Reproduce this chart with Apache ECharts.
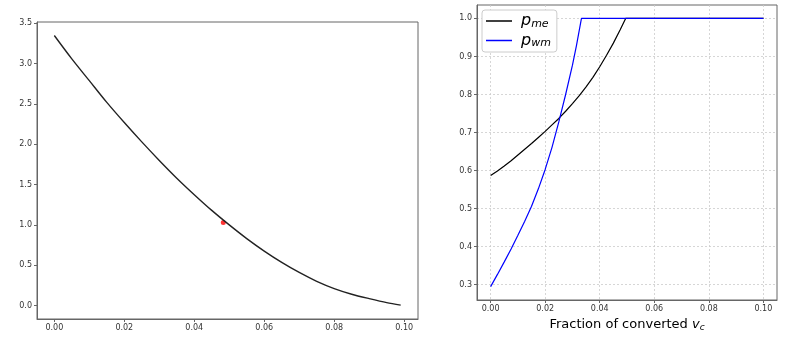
<!DOCTYPE html>
<html>
<head>
<meta charset="utf-8">
<script src="https://cdn.jsdelivr.net/npm/echarts@6/dist/echarts.min.js"></script>
<style>
html,body{margin:0;padding:0;background:#fff;}
#chart{width:803px;height:337px;}
</style>
</head>
<body>
<div id="chart"></div>
<script>
// left panel: decreasing curve + marked point
var leftX = [0, 0.005, 0.01, 0.015, 0.02, 0.025, 0.03, 0.035, 0.04, 0.045, 0.05, 0.055, 0.06, 0.065, 0.07, 0.075, 0.08, 0.085, 0.09, 0.095, 0.099];
var leftY = [3.35, 3.06, 2.79, 2.52, 2.27, 2.03, 1.80, 1.58, 1.375, 1.18, 1.0, 0.83, 0.675, 0.535, 0.41, 0.30, 0.21, 0.14, 0.085, 0.035, 0.005];
var markPoint = [0.0483, 1.03];
var leftXTicks = [0, 0.02, 0.04, 0.06, 0.08, 0.10];
var leftYTicks = [0, 0.5, 1.0, 1.5, 2.0, 2.5, 3.0, 3.5];

// right panel: p_me and p_wm
var meX = [0, 0.0025, 0.005, 0.0075, 0.01, 0.0125, 0.015, 0.0175, 0.02, 0.0225, 0.025, 0.0275, 0.03, 0.0325, 0.035, 0.0375, 0.04, 0.0425, 0.045, 0.0475, 0.0495, 0.1];
var meY = [0.587, 0.599, 0.612, 0.626, 0.641, 0.656, 0.671, 0.687, 0.703, 0.720, 0.737, 0.756, 0.776, 0.797, 0.820, 0.845, 0.873, 0.903, 0.935, 0.970, 1.0, 1.0];
var wmX = [0, 0.0025, 0.005, 0.0075, 0.01, 0.0125, 0.015, 0.0175, 0.02, 0.0225, 0.025, 0.0275, 0.03, 0.0315, 0.0333, 0.1];
var wmY = [0.295, 0.327, 0.36, 0.394, 0.43, 0.467, 0.506, 0.552, 0.603, 0.661, 0.728, 0.80, 0.877, 0.93, 1.0, 1.0];
var rightXTicks = [0, 0.02, 0.04, 0.06, 0.08, 0.10];
var rightYTicks = [0.3, 0.4, 0.5, 0.6, 0.7, 0.8, 0.9, 1.0];

function pairs(xs, ys){
    var out = [];
    for(var i = 0; i < xs.length; i++){
        out.push([xs[i], ys[i]]);
    }
    return out;
}

var axisCol = '#666';
var labelStyle = {color:'#333', fontSize:8, fontFamily:'DejaVu Sans'};

var myChart = echarts.init(document.getElementById('chart'), null, {renderer:'canvas'});
myChart.setOption({
    animation: false,
    grid: [
        {left:37, top:22, right:385, bottom:18, show:true, borderColor:axisCol, borderWidth:1},
        {left:477, top:5, right:26, bottom:33, show:true, borderColor:axisCol, borderWidth:1}
    ],
    legend: {
        left: 482, top: 10,
        orient: 'vertical',
        data: ['p_me', 'p_wm'],
        icon: 'rect',
        itemWidth: 26, itemHeight: 1.5,
        itemGap: 3,
        padding: [3, 6, 3, 4],
        borderColor: '#ccc', borderWidth: 1, borderRadius: 3,
        backgroundColor: '#fff',
        formatter: function(name){
            var sub = name.split('_')[1];
            return '{p|p}{s|' + sub + '}';
        },
        textStyle: {
            rich: {
                p: {fontSize:16, fontStyle:'italic', fontFamily:'DejaVu Sans', color:'#000', padding:[0,0,0,4]},
                s: {fontSize:11, fontStyle:'italic', fontFamily:'DejaVu Sans', color:'#000', padding:[6,0,0,0]}
            }
        }
    },
    xAxis: [{
        gridIndex: 0, type: 'value',
        min: -0.00495, max: 0.10395,
        axisLine: {show:true, onZero:false, lineStyle:{color:axisCol}},
        axisTick: {show:true, length:3, customValues:leftXTicks, lineStyle:{color:axisCol}},
        axisLabel: Object.assign({customValues:leftXTicks, margin:5, formatter:function(v){return v.toFixed(2);}}, labelStyle),
        splitLine: {show:false}
    },{
        gridIndex: 1, type: 'value',
        min: -0.005, max: 0.105,
        name: '{t|Fraction of converted }{v|v}{c|c}',
        nameLocation: 'middle', nameGap: 17,
        nameTextStyle: {
            rich: {
                t: {fontSize:13, fontFamily:'DejaVu Sans', color:'#000'},
                v: {fontSize:13, fontStyle:'italic', fontFamily:'DejaVu Sans', color:'#000'},
                c: {fontSize:9, fontStyle:'italic', fontFamily:'DejaVu Sans', color:'#000', padding:[6,0,0,0]}
            }
        },
        axisLine: {show:true, onZero:false, lineStyle:{color:axisCol}},
        axisTick: {show:true, length:3, customValues:rightXTicks, lineStyle:{color:axisCol}},
        axisLabel: Object.assign({customValues:rightXTicks, margin:5, formatter:function(v){return v.toFixed(2);}}, labelStyle),
        splitLine: {show:true, lineStyle:{color:'#ccc', type:[2,2], width:0.8}}
    }],
    yAxis: [{
        gridIndex: 0, type: 'value',
        min: -0.1675, max: 3.5175,
        axisLine: {show:true, onZero:false, lineStyle:{color:axisCol}},
        axisTick: {show:true, length:3, customValues:leftYTicks, lineStyle:{color:axisCol}},
        axisLabel: Object.assign({customValues:leftYTicks, margin:5, formatter:function(v){return v.toFixed(1);}}, labelStyle),
        splitLine: {show:false}
    },{
        gridIndex: 1, type: 'value',
        min: 0.25975, max: 1.03525,
        axisLine: {show:true, onZero:false, lineStyle:{color:axisCol}},
        axisTick: {show:true, length:3, customValues:rightYTicks, lineStyle:{color:axisCol}},
        axisLabel: Object.assign({customValues:rightYTicks, margin:5, formatter:function(v){return v.toFixed(1);}}, labelStyle),
        splitLine: {show:true, lineStyle:{color:'#ccc', type:[2,2], width:0.8}}
    }],
    series: [{
        type: 'line', xAxisIndex:0, yAxisIndex:0,
        data: pairs(leftX, leftY),
        smooth: 0.3, showSymbol: false,
        lineStyle: {color:'#222', width:1.4}
    },{
        type: 'scatter', xAxisIndex:0, yAxisIndex:0,
        data: [markPoint],
        symbolSize: 5,
        itemStyle: {color:'#ff0000'}
    },{
        name: 'p_me',
        type: 'line', xAxisIndex:1, yAxisIndex:1,
        data: pairs(meX, meY),
        showSymbol: false,
        color: '#000',
        lineStyle: {color:'#000', width:1.2}
    },{
        name: 'p_wm',
        type: 'line', xAxisIndex:1, yAxisIndex:1,
        data: pairs(wmX, wmY),
        showSymbol: false,
        color: '#0000ff',
        lineStyle: {color:'#0000ff', width:1.2}
    }]
});
</script>
</body>
</html>
